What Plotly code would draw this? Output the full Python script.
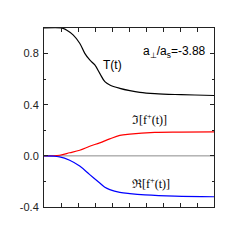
import plotly.graph_objects as go

# time axis (arbitrary units, 0..10)
t_T = [0, 1.03, 1.32, 1.71, 2.10, 2.40, 2.69, 2.99, 3.28, 3.58, 3.87, 4.46, 5.05, 5.64, 6.52, 7.70, 8.88, 10]
T_vals = [1.0, 1.0, 0.985, 0.946, 0.881, 0.802, 0.75, 0.711, 0.645, 0.58, 0.554, 0.528, 0.51, 0.497, 0.487, 0.48, 0.476, 0.472]

t_im = [0, 0.92, 1.51, 2.10, 2.69, 3.28, 3.87, 4.46, 5.05, 6.52, 8.0, 10]
im_vals = [0, 0.005, 0.024, 0.044, 0.075, 0.102, 0.133, 0.16, 0.17, 0.183, 0.186, 0.188]

t_re = [0, 0.92, 1.51, 2.10, 2.69, 3.28, 3.58, 3.87, 4.46, 5.05, 5.94, 7.7, 10]
re_vals = [0, -0.008, -0.034, -0.08, -0.147, -0.212, -0.246, -0.264, -0.285, -0.295, -0.305, -0.315, -0.32]

y_tickvals = [-0.4, 0.0, 0.4, 0.8]
y_ticktext = ["-0.4", "0.0", "0.4", "0.8"]

SANS = "Liberation Sans, Arial, sans-serif"
SERIF = "Liberation Serif, Times New Roman, serif"

fig = go.Figure()
fig.add_trace(go.Scatter(x=[0, 10], y=[0, 0], mode="lines",
                         line=dict(color="#8c8c8c", width=1), hoverinfo="skip"))
fig.add_trace(go.Scatter(x=t_T, y=T_vals, mode="lines", line=dict(color="black", width=1.2, shape="spline")))
fig.add_trace(go.Scatter(x=t_im, y=im_vals, mode="lines", line=dict(color="red", width=1.2, shape="spline")))
fig.add_trace(go.Scatter(x=t_re, y=re_vals, mode="lines", line=dict(color="blue", width=1.2, shape="spline")))

fig.add_annotation(x=4.02, y=0.709, text="T(t)", showarrow=False,
                   font=dict(family=SANS, size=12, color="black"))
fig.add_annotation(x=9.66, y=0.81, text="a<sub>⊥</sub>/a<sub>s</sub>=-3.88", showarrow=False,
                   xanchor="right", font=dict(family=SANS, size=12, color="black"))
fig.add_annotation(x=5.05, y=0.283, text="ℑ[f<sup>+</sup>(t)]", showarrow=False,
                   xanchor="left", font=dict(family=SERIF, size=12, color="black"))
fig.add_annotation(x=5.05, y=-0.216, text="ℜ[f<sup>+</sup>(t)]", showarrow=False,
                   xanchor="left", font=dict(family=SERIF, size=12, color="black"))

fig.update_xaxes(range=[0, 10], showgrid=False, zeroline=False, showline=True, linecolor="#222",
                 linewidth=1, mirror="allticks", ticks="inside", ticklen=4, tickcolor="#222",
                 dtick=1, tick0=0, showticklabels=False)
fig.update_yaxes(range=[-0.4, 1.0], showgrid=False, zeroline=False, showline=True, linecolor="#222",
                 linewidth=1, mirror="allticks", ticks="inside", ticklen=4, tickcolor="#222",
                 tickvals=y_tickvals, ticktext=y_ticktext, ticklabelstandoff=2,
                 tickfont=dict(family=SANS, size=11, color="#222"),
                 minor=dict(ticks="inside", ticklen=2, tickcolor="#222", tickvals=[-0.2, 0.2, 0.6]))

fig.update_layout(width=249, height=249, margin=dict(l=44, r=35, t=28, b=42),
                  paper_bgcolor="white", plot_bgcolor="white", showlegend=False)
fig.write_html("out.html", config={"displayModeBar": False},
               post_script="document.body.style.margin='0';document.body.style.overflow='hidden';")
